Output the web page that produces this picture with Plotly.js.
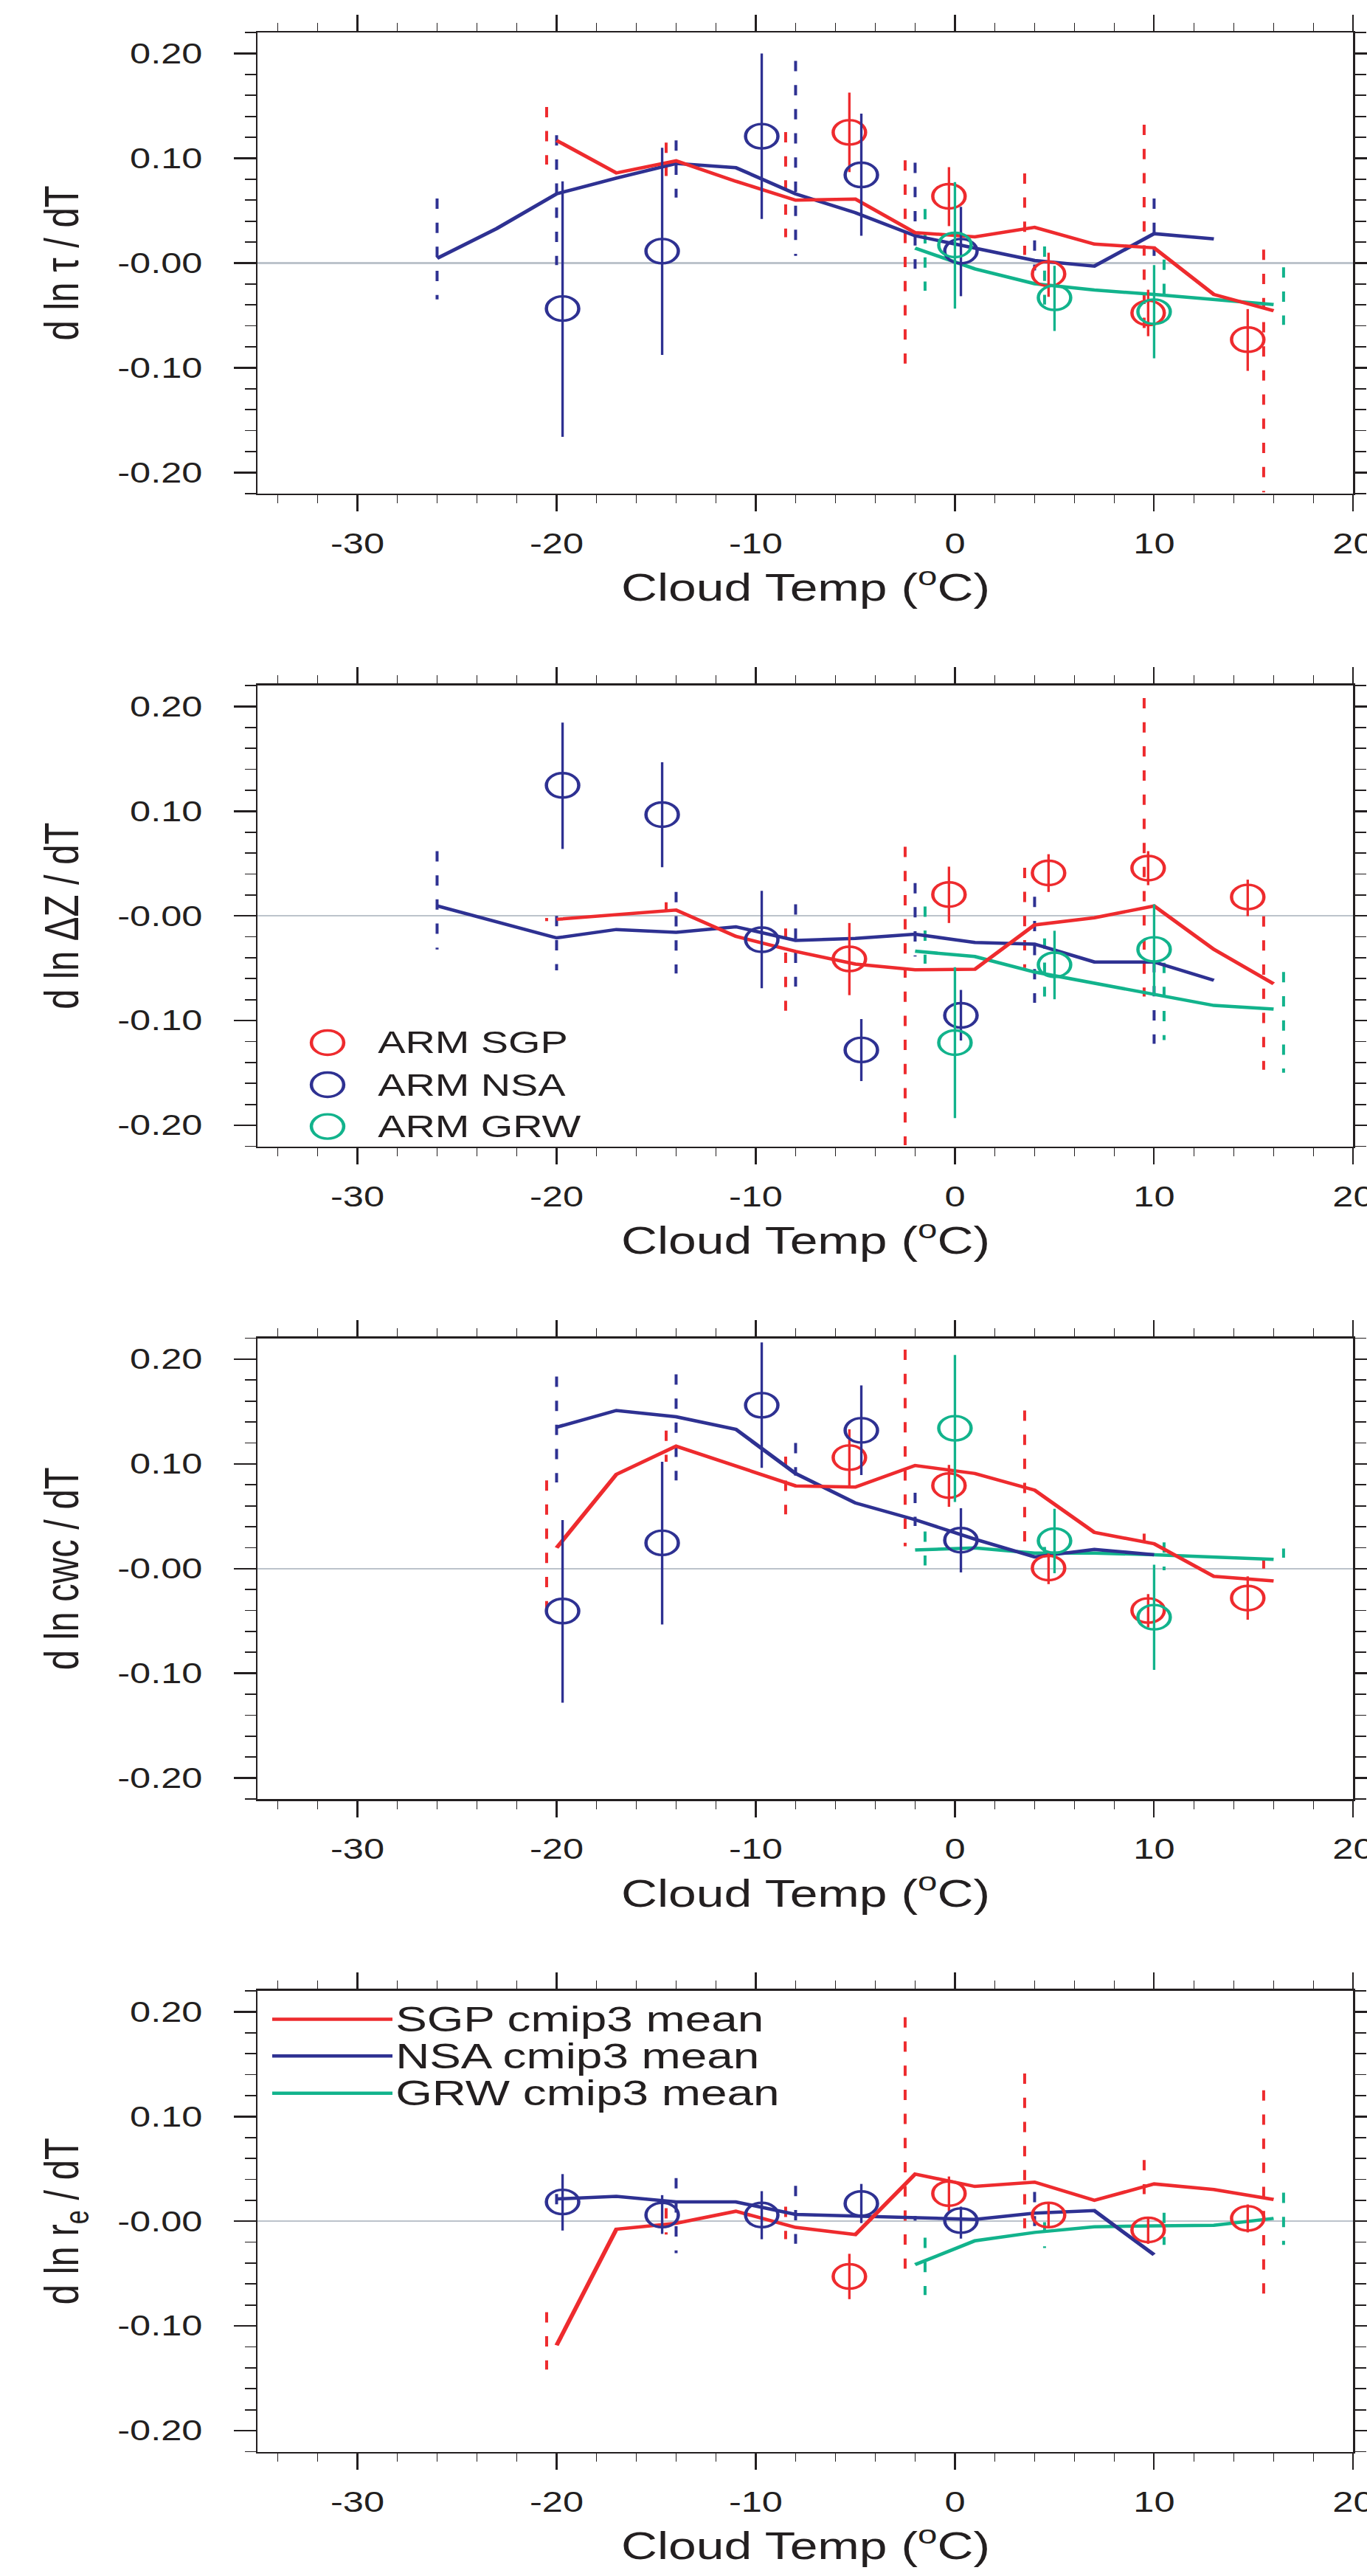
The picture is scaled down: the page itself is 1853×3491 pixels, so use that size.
<!DOCTYPE html>
<html><head><meta charset="utf-8">
<script src="https://cdn.plot.ly/plotly-3.0.1.min.js"></script>
<style>
html,body{margin:0;padding:0;background:#fff;overflow:hidden;}
#wrap{width:1853px;height:3491px;overflow:hidden;position:relative;background:#fff;}
#chart{width:1393px;height:3491px;transform:scaleX(1.330222);transform-origin:0 0;}
</style></head>
<body><div id="wrap"><div id="chart"></div></div>
<script>
// ---------------- data ----------------
const modelTemp = [-26,-23,-20,-17,-14,-11,-8,-5,-2,1,4,7,10,13,16];
const sgpSpreadTemp = [-20.5,-14.5,-8.5,-2.5,3.5,9.5,15.5];
const nsaSpreadTemp = [-26,-20,-14,-8,-2,4,10];
const grwSpreadTemp = [-1.5,4.5,10.5,16.5];
const sgpObsTemp = [-5.3,-0.3,4.7,9.7,14.7];
const nsaObsTemp = [-19.7,-14.7,-9.7,-4.7,0.3];
const grwObsTemp = [0,5,10];

const xTickVals = [-30,-20,-10,0,10,20];
const xTickText = ['-30','-20','-10','0','10','20'];
const yTickVals = [-0.2,-0.1,0,0.1,0.2];
const yTickText = ['-0.20','-0.10','-0.00','0.10','0.20'];
const yTitles = ['d ln \u03c4 / dT','d ln \u0394Z / dT','d ln cwc / dT','d ln r<sub>e</sub> / dT'];
const xTitle = 'Cloud Temp (<sup>o</sup>C)';
const obsNames = ['ARM SGP','ARM NSA','ARM GRW'];
const modelNames = ['SGP cmip3 mean','NSA cmip3 mean','GRW cmip3 mean'];

// panel 1 : d ln tau / dT
const tauSgpMean = [null,null,0.117,0.086,0.0975,0.078,0.060,0.061,0.029,0.025,0.034,0.018,0.0145,-0.030,-0.0456];
const tauNsaMean = [0.0044,0.033,0.066,0.081,0.095,0.091,0.066,0.048,0.026,0.0145,0.0024,-0.003,0.028,0.023,null];
const tauGrwMean = [null,null,null,null,null,null,null,null,0.0142,-0.0056,-0.0198,-0.0258,-0.030,-0.0347,-0.0397];
const tauSgpSpreadHi = [0.149,0.115,0.125,0.098,0.0856,0.132,0.0127];
const tauSgpSpreadLo = [0.094,0.083,0.0246,-0.096,0.0077,-0.0693,-0.219];
const tauNsaSpreadHi = [0.0616,0.122,0.117,0.193,0.0957,0.0216,0.0616];
const tauNsaSpreadLo = [-0.0347,-0.002,0.0625,0.0068,-0.0056,-0.0071,0.0068];
const tauGrwSpreadHi = [0.0515,0.0157,0.0033,-0.0041];
const tauGrwSpreadLo = [-0.0264,-0.0397,-0.0293,-0.059];
const tauSgpObs = [0.1247,0.0637,-0.0104,-0.0477,-0.0732];
const tauSgpObsHi = [0.1626,0.0915,0.0098,-0.0255,-0.044];
const tauSgpObsLo = [0.0868,0.0352,-0.0323,-0.0699,-0.103];
const tauNsaObs = [-0.0435,0.0113,0.121,0.0841,0.0113];
const tauNsaObsHi = [0.078,0.110,0.200,0.1425,0.0536];
const tauNsaObsLo = [-0.166,-0.0877,0.042,0.026,-0.0317];
const tauGrwObs = [0.0172,-0.0332,-0.0465];
const tauGrwObsHi = [0.0773,-0.0027,-0.002];
const tauGrwObsLo = [-0.0435,-0.0649,-0.091];

// panel 2 : d ln dZ / dT
const dzSgpMean = [null,null,-0.0033,0.001,0.0056,-0.0195,-0.034,-0.046,-0.0515,-0.051,-0.0086,-0.0018,0.0095,-0.032,-0.0648];
const dzNsaMean = [0.0095,-0.006,-0.021,-0.013,-0.0157,-0.0104,-0.0234,-0.0216,-0.0175,-0.0254,-0.027,-0.044,-0.044,-0.0615,null];
const dzGrwMean = [null,null,null,null,null,null,null,null,-0.0337,-0.0388,-0.0536,-0.064,-0.0743,-0.0855,-0.089];
const dzSgpSpreadHi = [-0.002,0.013,-0.012,0.066,0.046,0.208,-0.0003];
const dzSgpSpreadLo = [-0.005,0.0056,-0.0905,-0.219,-0.0497,-0.077,-0.147];
const dzNsaSpreadHi = [0.0618,0.0,0.0228,0.011,0.0314,0.0183,-0.044];
const dzNsaSpreadLo = [-0.032,-0.052,-0.055,-0.0675,-0.0388,-0.083,-0.122];
const dzGrwSpreadHi = [0.009,-0.0216,-0.0447,-0.0536];
const dzGrwSpreadLo = [-0.0456,-0.077,-0.1186,-0.1497];
const dzSgpObs = [-0.0411,0.0204,0.041,0.0456,0.018];
const dzSgpObsHi = [-0.0068,0.047,0.0589,0.0618,0.0346];
const dzSgpObsLo = [-0.0757,-0.0068,0.0228,0.0293,-0.0003];
const dzNsaObs = [0.1246,0.0967,-0.0228,-0.128,-0.095];
const dzNsaObsHi = [0.1846,0.1467,0.024,-0.0985,-0.0707];
const dzNsaObsLo = [0.0639,0.0464,-0.069,-0.1577,-0.119];
const dzGrwObs = [-0.121,-0.0467,-0.032];
const dzGrwObsHi = [-0.049,-0.0142,0.011];
const dzGrwObsLo = [-0.193,-0.0796,-0.0743];

// panel 3 : d ln cwc / dT
const cwcSgpMean = [null,null,0.0198,0.090,0.1169,0.0976,0.079,0.0778,0.0985,0.0908,0.0749,0.0346,0.0237,-0.0074,-0.0118];
const cwcNsaMean = [null,null,0.135,0.151,0.145,0.133,0.0908,0.0627,0.0467,0.0281,0.0112,0.0183,0.0133,null,null];
const cwcGrwMean = [null,null,null,null,null,null,null,null,0.0178,0.0198,0.0148,0.0148,0.0133,0.0112,0.0089];
const cwcSgpSpreadHi = [0.0843,0.1317,0.107,0.209,0.151,0.0334,0.0089];
const cwcSgpSpreadLo = [-0.040,0.102,0.0518,0.0213,0.0257,0.0251,0.0];
const cwcNsaSpreadHi = [null,0.1834,0.1855,0.120,0.0725,null,null];
const cwcNsaSpreadLo = [null,0.0822,0.0843,0.0888,0.0408,null,null];
const cwcGrwSpreadHi = [0.0355,0.0207,0.025,0.0192];
const cwcGrwSpreadLo = [0.003,0.0118,-0.0015,0.0104];
const cwcSgpObs = [0.106,0.0793,0.0006,-0.040,-0.0281];
const cwcSgpObsHi = [0.133,0.099,0.0169,-0.0243,-0.0074];
const cwcSgpObsLo = [0.0784,0.059,-0.0148,-0.0562,-0.0488];
const cwcNsaObs = [-0.0405,0.0246,0.156,0.132,0.0272];
const cwcNsaObsHi = [0.0464,0.102,0.216,0.175,0.0577];
const cwcNsaObsLo = [-0.128,-0.0533,0.0962,0.0893,-0.0036];
const cwcGrwObs = [0.134,0.0266,-0.0464];
const cwcGrwObsHi = [0.204,0.0571,0.0038];
const cwcGrwObsLo = [0.0636,-0.0044,-0.0967];

// panel 4 : d ln re / dT
const reSgpMean = [null,null,-0.1185,-0.0077,-0.002,0.0095,-0.0059,-0.0127,0.045,0.0332,0.0373,0.0199,0.0356,0.0302,0.0207];
const reNsaMean = [null,null,0.0213,0.0237,0.0184,0.0184,0.0065,0.0047,0.0036,0.0018,0.0077,0.0101,-0.032,null,null];
const reGrwMean = [null,null,null,null,null,null,null,null,-0.0415,-0.0187,-0.0107,-0.0053,-0.0044,-0.0039,0.0027];
const reSgpSpreadHi = [-0.0868,0.0124,0.0139,0.1947,0.141,0.0584,0.125];
const reSgpSpreadLo = [-0.1416,-0.0127,-0.0172,-0.0453,-0.0068,0.0258,-0.069];
const reNsaSpreadHi = [null,0.026,0.0412,0.0338,0.005,0.0279,null];
const reNsaSpreadLo = [null,0.004,-0.0305,-0.0216,0.0006,-0.0047,null];
const reGrwSpreadHi = [-0.0157,-0.0009,0.008,0.0273];
const reGrwSpreadLo = [-0.0705,-0.0255,-0.0225,-0.0225];
const reSgpObs = [-0.0527,0.0264,0.0059,-0.0083,0.0027];
const reSgpObsHi = [-0.0311,0.0427,0.0184,0.0036,0.016];
const reSgpObsLo = [-0.0744,0.0095,-0.0068,-0.0216,-0.0107];
const reNsaObs = [0.0184,0.0059,0.0059,0.0169,0.0006];
const reNsaObsHi = [0.045,0.0249,0.0287,0.0356,0.0139];
const reNsaObsLo = [-0.0089,-0.0121,-0.0172,-0.0018,-0.0166];
const reGrwObs = [];
const reGrwObsHi = [];
const reGrwObsLo = [];

// ---------------- assembly ----------------
const panels = [
  {mean:[tauSgpMean,tauNsaMean,tauGrwMean], spHi:[tauSgpSpreadHi,tauNsaSpreadHi,tauGrwSpreadHi], spLo:[tauSgpSpreadLo,tauNsaSpreadLo,tauGrwSpreadLo],
   obs:[tauSgpObs,tauNsaObs,tauGrwObs], obsHi:[tauSgpObsHi,tauNsaObsHi,tauGrwObsHi], obsLo:[tauSgpObsLo,tauNsaObsLo,tauGrwObsLo]},
  {mean:[dzSgpMean,dzNsaMean,dzGrwMean], spHi:[dzSgpSpreadHi,dzNsaSpreadHi,dzGrwSpreadHi], spLo:[dzSgpSpreadLo,dzNsaSpreadLo,dzGrwSpreadLo],
   obs:[dzSgpObs,dzNsaObs,dzGrwObs], obsHi:[dzSgpObsHi,dzNsaObsHi,dzGrwObsHi], obsLo:[dzSgpObsLo,dzNsaObsLo,dzGrwObsLo]},
  {mean:[cwcSgpMean,cwcNsaMean,cwcGrwMean], spHi:[cwcSgpSpreadHi,cwcNsaSpreadHi,cwcGrwSpreadHi], spLo:[cwcSgpSpreadLo,cwcNsaSpreadLo,cwcGrwSpreadLo],
   obs:[cwcSgpObs,cwcNsaObs,cwcGrwObs], obsHi:[cwcSgpObsHi,cwcNsaObsHi,cwcGrwObsHi], obsLo:[cwcSgpObsLo,cwcNsaObsLo,cwcGrwObsLo]},
  {mean:[reSgpMean,reNsaMean,reGrwMean], spHi:[reSgpSpreadHi,reNsaSpreadHi,reGrwSpreadHi], spLo:[reSgpSpreadLo,reNsaSpreadLo,reGrwSpreadLo],
   obs:[reSgpObs,reNsaObs,reGrwObs], obsHi:[reSgpObsHi,reNsaObsHi,reGrwObsHi], obsLo:[reSgpObsLo,reNsaObsLo,reGrwObsLo]}
];
const spreadTemps = [sgpSpreadTemp, nsaSpreadTemp, grwSpreadTemp];
const obsTemps = [sgpObsTemp, nsaObsTemp, grwObsTemp];

const colors = ['#ee2b2e','#2e3192','#12b38c'];
const axc = '#231f20';
const FONT = 'Liberation Sans, Arial, Helvetica, sans-serif';
const W = 1393, H = 3491, FW = 1853;           // FW: displayed width (after horizontal stretch)
const panelTop = [44.1, 928.9, 1813.5, 2697.9];
const panelH = 624.6;
const xDom = [349.5/FW, 1834.4/FW];

function segments(xs, lo, hi) {
  const x = [], y = [];
  for (let i = 0; i < xs.length; i++) {
    if (hi[i] == null || lo[i] == null) continue;
    x.push(xs[i], xs[i], null); y.push(hi[i], lo[i], null);
  }
  return {x, y};
}

const traces = [];
panels.forEach((p, k) => {
  const sfx = k === 0 ? '' : String(k + 1);
  const xa = 'x' + sfx, ya = 'y' + sfx;
  // model spread (dashed)
  for (let m = 0; m < 3; m++) {
    const s = segments(spreadTemps[m], p.spLo[m], p.spHi[m]);
    traces.push({type:'scatter', mode:'lines', x:s.x, y:s.y, xaxis:xa, yaxis:ya, connectgaps:false,
      line:{color:colors[m], width:3, dash:'14px,18.7px'}, showlegend:false, hoverinfo:'skip'});
  }
  // model means
  for (let m = 2; m >= 0; m--) {
    traces.push({type:'scatter', mode:'lines', x:modelTemp, y:p.mean[m], xaxis:xa, yaxis:ya,
      name:modelNames[m], line:{color:colors[m], width:4.5}, showlegend:false});
  }
  // observations
  for (let m = 0; m < 3; m++) {
    if (!p.obs[m].length) continue;
    traces.push({type:'scatter', mode:'markers', x:obsTemps[m], y:p.obs[m], xaxis:xa, yaxis:ya,
      name:obsNames[m], showlegend:false,
      marker:{symbol:'circle-open', size:33, color:colors[m], line:{width:3.4, color:colors[m]}},
      error_y:{type:'data', symmetric:false,
        array:p.obsHi[m].map((h,i)=>h - p.obs[m][i]),
        arrayminus:p.obs[m].map((v,i)=>v - p.obsLo[m][i]),
        color:colors[m], thickness:2.5, width:0}});
  }
});

const layout = {
  width:W, height:H, margin:{l:0,r:0,t:0,b:0,pad:0}, showlegend:false,
  paper_bgcolor:'#fff', plot_bgcolor:'#fff',
  font:{family:FONT, color:axc},
  shapes:[], annotations:[]
};
for (let k = 0; k < 4; k++) {
  const sfx = k === 0 ? '' : String(k + 1);
  const top = panelTop[k];
  layout['xaxis' + sfx] = {
    domain:xDom, anchor:'y' + sfx, range:[-35,20], fixedrange:true,
    tickmode:'array', tickvals:xTickVals, ticktext:xTickText, ticklabeloverflow:'allow',
    ticks:'outside', ticklen:22, tickwidth:1.6, tickcolor:axc, ticklabelstandoff:11,
    minor:{tickmode:'linear', tick0:0, dtick:2, ticks:'outside', ticklen:11, tickwidth:1.1, tickcolor:axc, showgrid:false},
    showline:true, linewidth:2.6, linecolor:axc, mirror:'allticks',
    showgrid:false, zeroline:false,
    tickfont:{family:FONT, size:38, color:axc},
    title:{text:xTitle, font:{family:FONT, size:51, color:axc}, standoff:22}
  };
  layout['yaxis' + sfx] = {
    domain:[1 - (top + panelH)/H, 1 - top/H], anchor:'x' + sfx, range:[-0.22,0.22], fixedrange:true,
    tickmode:'array', tickvals:yTickVals, ticktext:yTickText, ticklabeloverflow:'allow',
    ticks:'outside', ticklen:22.6, tickwidth:2.6, tickcolor:axc, ticklabelstandoff:24,
    minor:{tickmode:'linear', tick0:0, dtick:0.02, ticks:'outside', ticklen:11.3, tickwidth:1.8, tickcolor:axc, showgrid:false},
    showline:true, linewidth:2.2, linecolor:axc, mirror:'allticks',
    showgrid:false, zeroline:true, zerolinecolor:'#bcc3cb', zerolinewidth:2.5,
    tickfont:{family:FONT, size:38, color:axc},
    title:{text:yTitles[k], font:{family:FONT, size:49, color:axc}, standoff:24}
  };
}

// legend of panel 2 (observations)
const obsLegendY = [1413, 1470, 1526.6];
for (let m = 0; m < 3; m++) {
  layout.shapes.push({type:'circle', xref:'paper', yref:'paper', xsizemode:'pixel', ysizemode:'pixel',
    xanchor:444/FW, yanchor:1 - obsLegendY[m]/H, x0:-16.5, x1:16.5, y0:-16.5, y1:16.5,
    line:{color:colors[m], width:3.4}, fillcolor:'rgba(0,0,0,0)'});
  layout.annotations.push({xref:'paper', yref:'paper', x:510/FW, y:1 - obsLegendY[m]/H,
    xanchor:'left', yanchor:'middle', showarrow:false, text:obsNames[m],
    font:{family:FONT, size:42, color:axc}});
}
// legend of panel 4 (model means)
const modelLegendY = [2736.6, 2786.3, 2836.8];
for (let m = 0; m < 3; m++) {
  layout.shapes.push({type:'line', xref:'paper', yref:'paper', x0:369/FW, x1:532/FW,
    y0:1 - modelLegendY[m]/H, y1:1 - modelLegendY[m]/H, line:{color:colors[m], width:4.5}});
  layout.annotations.push({xref:'paper', yref:'paper', x:533/FW, y:1 - modelLegendY[m]/H,
    xanchor:'left', yanchor:'middle', showarrow:false, text:modelNames[m],
    font:{family:FONT, size:48, color:axc}});
}

Plotly.newPlot('chart', traces, layout, {staticPlot:true, displayModeBar:false});
</script>
</body></html>
